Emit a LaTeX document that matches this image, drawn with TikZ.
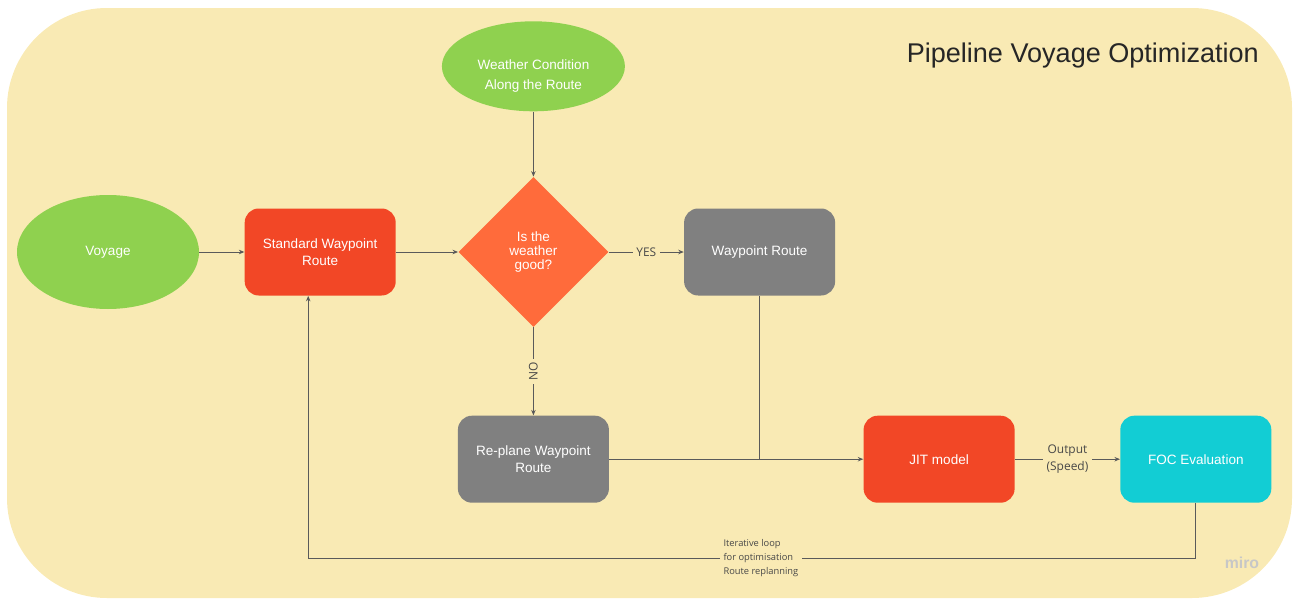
\documentclass[tikz,border=0pt]{standalone}
\usepackage{fontspec}
\setmainfont{Liberation Sans}
\newfontfamily\labelfont{Open Sans}
\usetikzlibrary{shapes.geometric, positioning, arrows.meta}

\definecolor{bgyellow}{RGB}{249,234,180}
\definecolor{mirogreen}{RGB}{143,209,79}
\definecolor{mirored}{RGB}{242,71,38}
\definecolor{miroorange}{RGB}{255,107,59}
\definecolor{mirogray}{RGB}{128,128,128}
\definecolor{mirocyan}{RGB}{18,205,212}
\definecolor{linegray}{RGB}{90,90,90}

\begin{document}
\begin{tikzpicture}[
    startnode/.style={
        ellipse,
        fill=mirogreen,
        text=white,
        inner sep=0pt,
        align=center,
        font=\fontsize{7.7}{9.3}\selectfont
    },
    boxnode/.style={
        rectangle,
        rounded corners=8pt,
        text=white,
        minimum width=3.02cm,
        minimum height=1.74cm,
        inner sep=0pt,
        align=center,
        font=\fontsize{7.7}{9.3}\selectfont
    },
    decnode/.style={
        diamond,
        fill=miroorange,
        text=white,
        minimum width=3cm,
        minimum height=3cm,
        inner sep=0pt,
        align=center,
        font=\fontsize{7.7}{8}\selectfont
    },
    flow/.style={
        >={Stealth[length=1.1mm, width=0.9mm]},
        ->,
        draw=linegray,
        line width=0.5pt
    },
    plainflow/.style={
        draw=linegray,
        line width=0.5pt
    },
    edgelabel/.style={
        fill=bgyellow,
        text=linegray!80!black,
        inner sep=2pt,
        align=center,
        font=\labelfont\fontsize{6.8}{10}\selectfont
    }
]
    \useasboundingbox (0,0) rectangle (25.86,-11.98);

    % Background
    \fill[bgyellow, rounded corners=2cm] (0.14,-0.16) rectangle (25.84,-11.96);
    \node[anchor=east, text=black!85, font=\fontsize{15.4}{18}\selectfont] (title) at (25.3,-1.12) {Pipeline Voyage Optimization};
    \node[text=black!22, font=\bfseries\fontsize{9}{10}\selectfont] (miro) at (24.84,-11.26) {miro};

    % Nodes
    \node[startnode, minimum width=3.64cm, minimum height=2.28cm] (nodeVoyage) at (2.16,-5.04) {Voyage};
    \node[boxnode, fill=mirored, right=0.9cm of nodeVoyage] (nodeStd) {Standard Waypoint\\Route};
    \node[decnode, right=1.24cm of nodeStd] (nodeCheck) {Is the\\weather\\good?};
    \node[startnode, minimum width=3.66cm, minimum height=1.8cm, font=\fontsize{7.7}{11.4}\selectfont, above=1.3cm of nodeCheck] (nodeWeather) {\rule{0pt}{17pt}Weather Condition\\Along the Route};
    \node[boxnode, fill=mirogray, right=1.5cm of nodeCheck] (nodeRoute) {Waypoint Route};
    \node[boxnode, fill=mirogray, below=1.76cm of nodeCheck] (nodeReplan) {Re-plane Waypoint\\Route};
    \node[boxnode, fill=mirored, right=5.08cm of nodeReplan] (nodeJit) {JIT model};
    \node[boxnode, fill=mirocyan, right=2.1cm of nodeJit] (nodeFoc) {FOC Evaluation};

    % Connectors
    \draw[flow] (nodeVoyage.east) -- (nodeStd.west);
    \draw[flow] (nodeStd.east) -- (nodeCheck.west);
    \draw[flow] (nodeWeather.south) -- (nodeCheck.north);
    \draw[flow] (nodeCheck.east) -- node[edgelabel] {YES} (nodeRoute.west);
    \draw[flow] (nodeCheck.south) -- node[edgelabel, rotate=90] {NO} (nodeReplan.north);
    \draw[flow] (nodeReplan.east) -- (nodeJit.west);
    \draw[plainflow] (nodeRoute.south) -- (nodeRoute.south |- nodeJit.west);
    \draw[flow] (nodeJit.east) -- node[edgelabel] {Output\\(Speed)} (nodeFoc.west);

    % Loop back to the standard route
    \coordinate (loopBase) at (15.2,-11.16);
    \draw[flow] (nodeFoc.south) -- (nodeFoc.south |- loopBase)
        -- node[edgelabel, align=left, pos=0.49, font=\labelfont\fontsize{5.3}{8}\selectfont] {Iterative loop\\for optimisation\\Route replanning}
        ([xshift=-0.24cm]nodeStd.south |- loopBase)
        -- ([xshift=-0.24cm]nodeStd.south);
\end{tikzpicture}
\end{document}
